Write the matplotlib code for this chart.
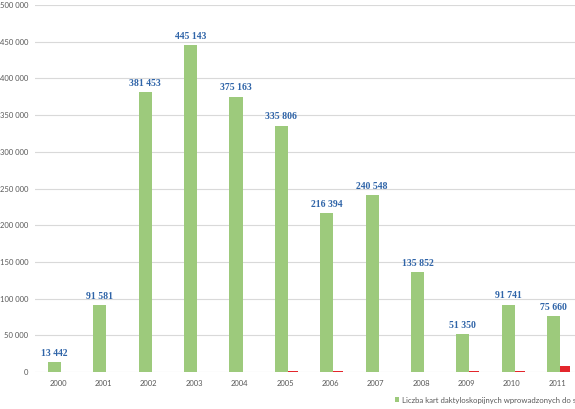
import matplotlib
matplotlib.use("Agg")
import matplotlib.pyplot as plt
import numpy as np

# data
years = ["2000", "2001", "2002", "2003", "2004", "2005",
         "2006", "2007", "2008", "2009", "2010", "2011"]
cards_entered = [13442, 91581, 381453, 445143, 375163, 335806,
                 216394, 240548, 135852, 51350, 91741, 75660]
cards_other = [0, 0, 0, 0, 0, 1100, 2000, 0, 0, 1200, 1600, 8800]
value_labels = ["13 442", "91 581", "381 453", "445 143", "375 163", "335 806",
                "216 394", "240 548", "135 852", "51 350", "91 741", "75 660"]
y_ticks = [0, 50000, 100000, 150000, 200000, 250000,
           300000, 350000, 400000, 450000, 500000]
y_tick_labels = ["0", "50 000", "100 000", "150 000", "200 000", "250 000",
                 "300 000", "350 000", "400 000", "450 000", "500 000"]
legend_labels = ["Liczba kart daktyloskopijnych wprowadzonych do systemu AFIS",
                 "Liczba kart daktyloskopijnych usuniętych z systemu"]

GREEN = "#9dca7c"
RED = "#e3262c"
GRAY = "#595959"

plt.rcParams["font.family"] = ["Lato", "DejaVu Sans"]

fig = plt.figure(figsize=(5.75, 4.09), dpi=100)
ax = fig.add_axes([35 / 575, 1 - 372 / 409, 1 - 35 / 575, 367 / 409])

x = np.arange(len(years))
bw = 0.29
green = ax.bar(x - 0.08, cards_entered, width=bw, color=GREEN, zorder=3)
red = ax.bar(x + 0.14, cards_other, width=bw, color=RED, zorder=2)

for xi, v, lab in zip(x, cards_entered, value_labels):
    ax.annotate(lab, (xi - 0.08, v), xytext=(0, 3), textcoords="offset points",
                ha="center", va="bottom", fontsize=7, fontweight="bold",
                family="Liberation Serif", color="#2f64a8")

ax.set_xlim(-0.51, 11.39)
ax.set_ylim(0, 500000)
ax.set_yticks(y_ticks)
ax.set_yticklabels(y_tick_labels)
ax.set_xticks(x)
ax.set_xticklabels(years)
ax.tick_params(axis="both", length=0, labelsize=5.5, labelcolor=GRAY)
ax.tick_params(axis="y", pad=5)
ax.tick_params(axis="x", pad=6)
ax.yaxis.grid(True, color="#d9d9d9", linewidth=0.8, zorder=0)
for s in ax.spines.values():
    s.set_visible(False)
ax.set_axisbelow(True)

# legend runs past the right edge, as in the cropped original
fig.legend([green, red], legend_labels, loc="center left",
           bbox_to_anchor=(395 / 575, 1 - 400 / 409), ncol=2, frameon=False,
           prop={"family": "Lato", "size": 5.6}, labelcolor=GRAY,
           handlelength=0.55, handleheight=0.55,
           handletextpad=0.4, borderaxespad=0, borderpad=0)

fig.savefig("out.png", dpi=100)
